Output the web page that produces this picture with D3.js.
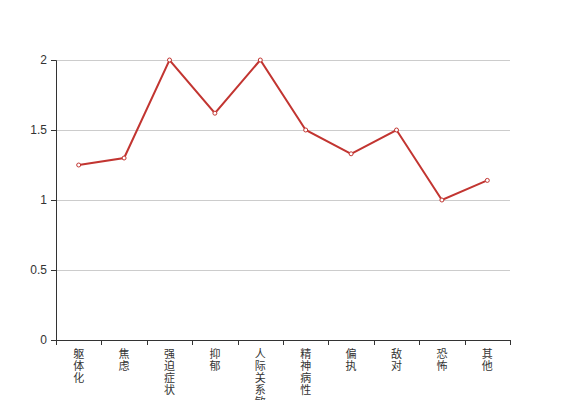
<!DOCTYPE html>
<html>
<head>
  <meta charset="utf-8">
  <style>
    body { margin: 0; background: #fff; }
    svg { display: block; font-family: "Noto Sans CJK SC", sans-serif; }
    .grid line { stroke: #ccc; stroke-width: 1; }
    .line { fill: none; stroke: #c23531; stroke-width: 2px; }
  </style>
</head>
<body>
  <svg width="567" height="400"></svg>
  <script src="https://cdn.jsdelivr.net/npm/d3@7"></script>
  <script>

  var categories = ["躯体化", "焦虑", "强迫症状", "抑郁", "人际关系敏感", "精神病性", "偏执", "敌对", "恐怖", "其他"];
  var values = [1.25, 1.3, 2, 1.62, 2, 1.5, 1.33, 1.5, 1, 1.14];
  var yTicks = [0, 0.5, 1, 1.5, 2];

  var svg = d3.select("svg"),
      margin = {top: 60, right: 57, bottom: 60, left: 56},
      width = svg.attr("width") - margin.left - margin.right,
      height = svg.attr("height") - margin.top - margin.bottom,
      g = svg.append("g").attr("transform", "translate(" + margin.left + "," + margin.top + ")");

  var x = d3.scaleBand().domain(categories).range([0, width]),
      y = d3.scaleLinear().domain([0, 2]).range([height, 0]);

  // gridlines
  g.append("g")
    .attr("class", "grid")
    .selectAll("line")
    .data(yTicks.slice(1))
    .enter().append("line")
    .attr("x1", 0)
    .attr("x2", width)
    .attr("y1", function(d) { return Math.round(y(d)) + 0.5; })
    .attr("y2", function(d) { return Math.round(y(d)) + 0.5; });

  // y axis
  var yAxis = g.append("g")
    .call(d3.axisLeft(y).tickValues(yTicks).tickSize(5).tickPadding(4).tickFormat(function(d) { return d; }));
  yAxis.select(".domain").attr("stroke", "#333");
  yAxis.selectAll(".tick line").attr("stroke", "#333");
  yAxis.selectAll(".tick text").attr("fill", "#333").style("font-size", "12px").style("font-family", "Helvetica, Arial, sans-serif");

  // x axis with ticks at band boundaries
  var xAxis = g.append("g").attr("transform", "translate(0," + height + ")");
  xAxis.append("line")
    .attr("x1", 0).attr("x2", width)
    .attr("y1", 0.5).attr("y2", 0.5)
    .attr("stroke", "#333");
  var bounds = categories.map(function(c) { return x(c); }).concat([width]);
  xAxis.selectAll(".xt")
    .data(bounds)
    .enter().append("line")
    .attr("class", "xt")
    .attr("x1", function(d) { return Math.round(d) + 0.5; })
    .attr("x2", function(d) { return Math.round(d) + 0.5; })
    .attr("y1", 0).attr("y2", 5)
    .attr("stroke", "#333");

  // vertical labels, one character per line
  var labels = xAxis.selectAll(".xl")
    .data(categories)
    .enter().append("text")
    .attr("class", "xl")
    .attr("text-anchor", "middle")
    .attr("fill", "#333")
    .style("font-size", "11px");
  labels.each(function(d) {
    var t = d3.select(this);
    d.split("").forEach(function(ch, i) {
      t.append("tspan")
        .attr("x", x(d) + x.bandwidth() / 2)
        .attr("y", 18 + i * 12)
        .text(ch);
    });
  });

  var pts = categories.map(function(c, i) { return {cat: c, v: values[i]}; });

  var line = d3.line()
    .x(function(d) { return x(d.cat) + x.bandwidth() / 2; })
    .y(function(d) { return y(d.v); });

  g.append("path")
    .datum(pts)
    .attr("class", "line")
    .attr("d", line);

  g.selectAll(".dot")
    .data(pts)
    .enter().append("circle")
    .attr("class", "dot")
    .attr("cx", function(d) { return x(d.cat) + x.bandwidth() / 2; })
    .attr("cy", function(d) { return y(d.v); })
    .attr("r", 2)
    .attr("fill", "#fff")
    .attr("stroke", "#c23531")
    .attr("stroke-width", 1);

  </script>
</body>
</html>
